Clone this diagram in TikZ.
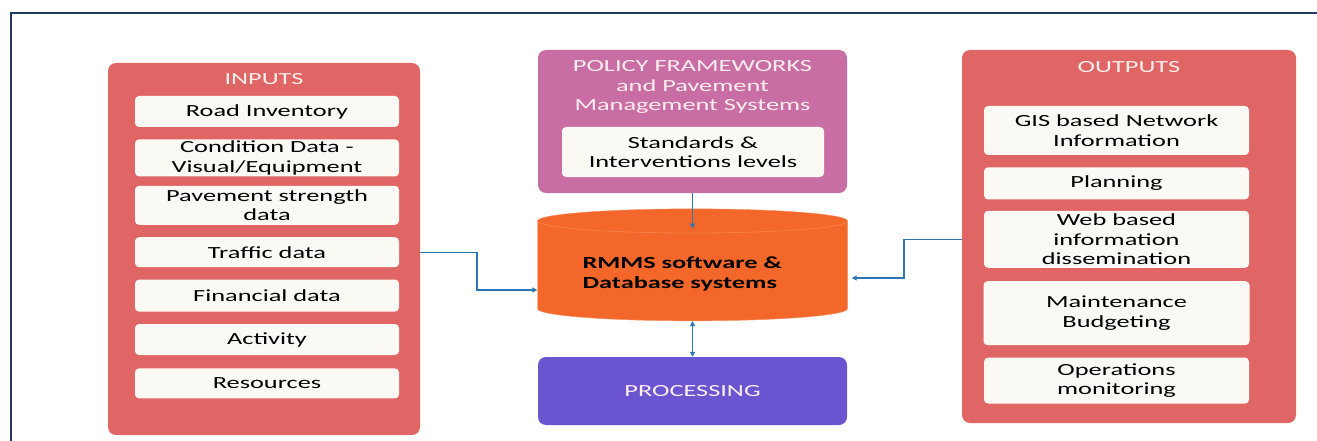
\documentclass[tikz,border=0pt]{standalone}
\usepackage{fontspec}
\setmainfont{Carlito}[FakeStretch=1.55]
\usetikzlibrary{positioning,shapes.geometric,arrows.meta}

\definecolor{framenavy}{RGB}{31,56,100}
\definecolor{boxred}{RGB}{224,102,102}
\definecolor{policypink}{RGB}{201,110,164}
\definecolor{procviolet}{RGB}{106,84,208}
\definecolor{dborange}{RGB}{243,104,42}
\definecolor{itemwhite}{RGB}{250,249,244}
\definecolor{flowblue}{RGB}{46,117,182}
\definecolor{headtext}{RGB}{253,238,238}

\begin{document}
\begin{tikzpicture}[x=1pt,y=-1pt,
		font=\fontsize{17}{19.5}\selectfont,
		>={Triangle[length=5pt,width=5pt]},
		group/.style={rectangle,rounded corners=8pt,fill=boxred,inner sep=0pt},
		item/.style={rectangle,rounded corners=4pt,fill=itemwhite,align=center,inner sep=0pt},
		head/.style={anchor=north,inner sep=0pt,text=headtext,align=center,yshift=-10.5pt},
		flow/.style={draw=flowblue,line width=1.2pt}
		]
	\useasboundingbox (0,0) rectangle (1317,441);
	\draw[framenavy,line width=2.2pt] (11,441) -- (11,13) -- (1317,13);

	% inputs
	\node[group,minimum width=312pt,minimum height=372pt,
		label={[head]north:INPUTS}](inputs) at (264,249){};
	\node[item,minimum width=264pt,minimum height=31pt](road) at (267,111.5){Road Inventory};
	\node[item,minimum width=264pt,minimum height=37pt,below=12pt of road](cond){Condition Data -\\Visual/Equipment};
	\node[item,minimum width=264pt,minimum height=39pt,below=9pt of cond](pav){Pavement strength\\data};
	\node[item,minimum width=264pt,minimum height=30pt,below=12pt of pav](traffic){Traffic data};
	\node[item,minimum width=264pt,minimum height=32pt,below=12pt of traffic](fin){Financial data};
	\node[item,minimum width=264pt,minimum height=31pt,below=12pt of fin](act){Activity};
	\node[item,minimum width=264pt,minimum height=30pt,below=13pt of act](res){Resources};

	% policy
	\node[group,fill=policypink,minimum width=309pt,minimum height=143pt,
		label={[head]north:POLICY FRAMEWORKS\\and Pavement\\Management Systems}](policy) at (692.5,121.5){};
	\node[item,minimum width=262pt,minimum height=50pt](std) at (693,152){Standards \&\\Interventions levels};

	% database
	\node[cylinder,shape border rotate=90,aspect=0.11,minimum width=310pt,minimum height=112pt,
		fill=dborange,draw=dborange!75!white,inner sep=0pt,text width=220pt,align=left,
		font=\fontsize{17}{20}\selectfont\bfseries](db) at (692.5,271){\rule{0pt}{17pt}RMMS software \&\\Database systems};

	% processing
	\node[group,fill=procviolet,text=headtext,minimum width=309pt,minimum height=68pt](process) at (692.5,391){PROCESSING};

	% outputs
	\node[group,minimum width=334pt,minimum height=373pt,
		label={[head,yshift=-1pt]north:OUTPUTS}](outputs) at (1129,236.5){};
	\node[item,minimum width=265pt,minimum height=49pt](gis) at (1116.5,130.5){GIS based Network\\Information};
	\node[item,minimum width=265pt,minimum height=32pt,below=12pt of gis](plan){Planning};
	\node[item,minimum width=265pt,minimum height=57pt,below=11pt of plan](web){Web based\\information\\dissemination};
	\node[item,minimum width=266pt,minimum height=64pt,below=13pt of web](maint){Maintenance\\Budgeting};
	\node[item,minimum width=265pt,minimum height=46pt,below=12pt of maint](ops){Operations\\monitoring};

	% connectors
	\coordinate (inbend) at (477,290);
	\coordinate (outbend) at (904,278);
	\draw[flow,->] (traffic -| inputs.east) -| (inbend) -- (inbend -| db.west);
	\draw[flow,->,shorten >=4pt] (web -| outputs.west) -| (outbend) -- (outbend -| db.east);
	\draw[flow,->] (policy.south) -- ([yshift=-20pt]db.north);
	\draw[flow,<->] (db.south) -- (process.north);
\end{tikzpicture}
\end{document}
